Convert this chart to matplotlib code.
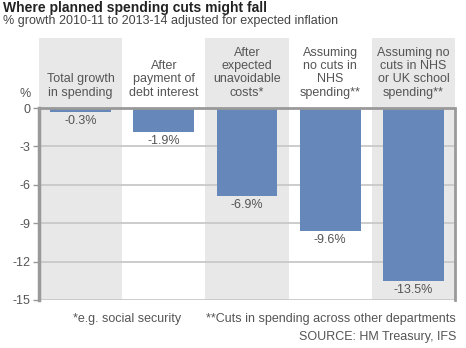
import matplotlib.pyplot as plt

plt.rcParams['font.family'] = ['Liberation Sans', 'DejaVu Sans']

categories = ['Total growth\nin spending', 'After\npayment of\ndebt interest',
              'After\nexpected\nunavoidable\ncosts*', 'Assuming\nno cuts in\nNHS\nspending**',
              'Assuming no\ncuts in NHS\nor UK school\nspending**']
values = [-0.3, -1.9, -6.9, -9.6, -13.5]
value_labels = ['-0.3%', '-1.9%', '-6.9%', '-9.6%', '-13.5%']
yticks = [0, -3, -6, -9, -12, -15]

bar_col = '#6687ba'
band_col = '#e8e8e8'
txt = '#555555'
fs = 9

fig = plt.figure(figsize=(4.66, 3.48), dpi=100)
ax = fig.add_axes([39 / 466, 1 - 300 / 348, 416 / 466, 262 / 348])
ax.set_xlim(-0.5, 4.5)
ax.set_ylim(-15, 5.47)

# grey bands behind alternate columns
for i in range(0, len(categories), 2):
    ax.axvspan(i - 0.5, i + 0.5, color=band_col, lw=0, zorder=0)

for y in yticks[1:-1]:
    ax.axhline(y, color='#c8c8c8', lw=1.3, zorder=1)
ax.axhline(-15, color='#c8c8c8', lw=1.3, zorder=1)

ax.bar(range(len(values)), values, width=0.73, color=bar_col, zorder=2)
ax.axhline(0, color='#999999', lw=2, zorder=3)
ax.plot([-0.5, -0.5], [0, -15], color='#999999', lw=2.5, zorder=3, clip_on=False)
ax.plot([4.5, 4.5], [0, -15], color='#999999', lw=2, zorder=3, clip_on=False)

for i, (v, lab) in enumerate(zip(values, value_labels)):
    ax.text(i, v - 0.22, lab, ha='center', va='top', fontsize=fs, color=txt, zorder=4)

for i, c in enumerate(categories):
    ax.text(i, 0.72, c, ha='center', va='bottom', fontsize=fs, color=txt,
            linespacing=1.15, zorder=4)

for s in ax.spines.values():
    s.set_visible(False)
ax.set_xticks([])
ax.set_yticks(yticks)
ax.set_yticklabels([str(t) for t in yticks])
ax.tick_params(axis='y', length=4, width=1, color='#999999', labelsize=fs,
               labelcolor=txt, pad=2)
ax.text(-0.6, 0.6, '%', ha='right', va='bottom', fontsize=fs, color=txt)

fig.text(3 / 466, 1 - 8 / 348, 'Where planned spending cuts might fall',
         fontsize=10, fontweight='bold', color='#222222', va='center')
fig.text(3 / 466, 1 - 21 / 348, '% growth 2010-11 to 2013-14 adjusted for expected inflation',
         fontsize=fs, color='#444444', va='center')

fig.text(127 / 466, 1 - 319 / 348, '*e.g. social security', fontsize=fs,
         color=txt, ha='center', va='center')
fig.text(456 / 466, 1 - 319 / 348, '**Cuts in spending across other departments',
         fontsize=fs, color=txt, ha='right', va='center')
fig.text(456 / 466, 1 - 337 / 348, 'SOURCE: HM Treasury, IFS', fontsize=fs,
         color=txt, ha='right', va='center')

fig.savefig('out.png', dpi=100)
